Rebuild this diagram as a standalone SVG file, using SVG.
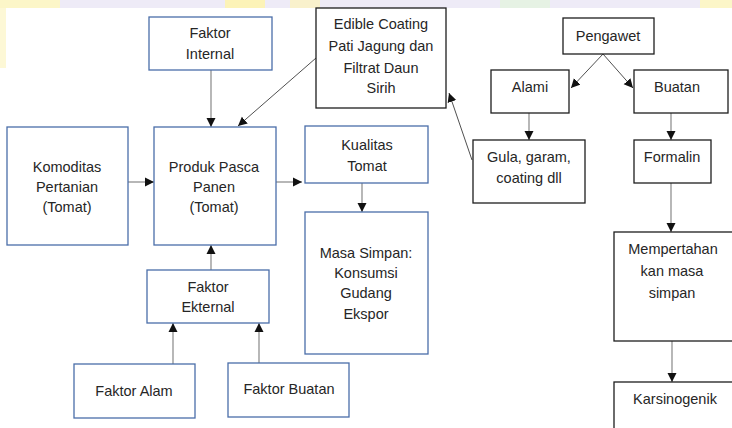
<svg xmlns="http://www.w3.org/2000/svg" width="732" height="428" viewBox="0 0 732 428">
<defs>
<style>
.b{fill:#fff;stroke:#4a6ea9;stroke-width:1.3}
.k{fill:#fff;stroke:#1e1e1e;stroke-width:1.3}
text{font-family:"Liberation Sans",Arial,sans-serif;font-size:14.5px;fill:#262626;text-anchor:middle}
.c{stroke:#a6a6a6;stroke-width:1.6;fill:none;marker-end:url(#ah)}
.d{stroke:#505050;stroke-width:1;fill:none;marker-end:url(#ah)}
</style>
<marker id="ah" markerUnits="userSpaceOnUse" markerWidth="10" markerHeight="10" viewBox="0 0 10 10" refX="9" refY="5" orient="auto">
<path d="M0,0.5 L9,5 L0,9.5 Z" fill="#111"/>
</marker>
</defs>
<rect width="732" height="428" fill="#fff"/>
<g id="watermark">
<rect x="0" y="0" width="732" height="8" fill="#eeebf7"/>
<rect x="0" y="0" width="60" height="8" fill="#fcf6c8"/>
<rect x="225" y="0" width="40" height="8" fill="#fcf3b8"/>
<rect x="290" y="0" width="30" height="8" fill="#f9f1cc"/>
<rect x="500" y="0" width="50" height="8" fill="#e6f2e4"/>
<rect x="700" y="0" width="32" height="8" fill="#fcf6c8"/>
<rect x="0" y="8" width="6" height="60" fill="#fdf8d6"/>
</g>
<g id="connectors">
<line class="c" x1="211" y1="70" x2="211" y2="127"/>
<line class="d" x1="316" y1="58" x2="238" y2="126"/>
<line class="c" x1="128" y1="182" x2="154" y2="182"/>
<line class="c" x1="276" y1="182" x2="302" y2="182"/>
<line class="c" x1="362" y1="183" x2="362" y2="212"/>
<line class="c" x1="211" y1="270" x2="211" y2="245"/>
<line class="c" x1="173" y1="364" x2="173" y2="323"/>
<line class="c" x1="259" y1="363" x2="259" y2="323"/>
<line class="d" x1="472" y1="160" x2="449" y2="93"/>
<line class="d" x1="603" y1="54" x2="571" y2="88"/>
<line class="d" x1="603" y1="54" x2="633" y2="88"/>
<line class="c" x1="529" y1="113" x2="529" y2="140"/>
<line class="c" x1="671" y1="113" x2="671" y2="140"/>
<line class="c" x1="671" y1="183" x2="671" y2="232"/>
<line class="c" x1="672" y1="341" x2="672" y2="382"/>
</g>
<g id="faktor-internal"><rect class="b" x="149" y="17" width="123" height="53"/><text x="210" y="38">Faktor</text><text x="210" y="59">Internal</text></g>
<g id="komoditas"><rect class="b" x="7" y="127" width="121" height="118"/><text x="67" y="172">Komoditas</text><text x="67" y="192">Pertanian</text><text x="67" y="212">(Tomat)</text></g>
<g id="produk"><rect class="b" x="154" y="127" width="122" height="118"/><text x="214" y="172">Produk Pasca</text><text x="214" y="192">Panen</text><text x="214" y="212">(Tomat)</text></g>
<g id="kualitas"><rect class="b" x="305" y="126" width="123" height="57"/><text x="367" y="150">Kualitas</text><text x="367" y="171">Tomat</text></g>
<g id="masa-simpan"><rect class="b" x="305" y="212" width="123" height="142"/><text x="366" y="258">Masa Simpan:</text><text x="366" y="278">Konsumsi</text><text x="366" y="298">Gudang</text><text x="366" y="319">Ekspor</text></g>
<g id="faktor-ekternal"><rect class="b" x="147" y="270" width="122" height="53"/><text x="208" y="292">Faktor</text><text x="208" y="312">Ekternal</text></g>
<g id="faktor-alam"><rect class="b" x="74" y="364" width="121" height="54"/><text x="134" y="396">Faktor Alam</text></g>
<g id="faktor-buatan"><rect class="b" x="228" y="363" width="121" height="54"/><text x="289" y="394">Faktor Buatan</text></g>
<g id="edible"><rect class="k" x="316" y="8" width="130" height="100"/><text x="381" y="29">Edible Coating</text><text x="381" y="51">Pati Jagung dan</text><text x="381" y="73">Filtrat Daun</text><text x="381" y="93">Sirih</text></g>
<g id="pengawet"><rect class="k" x="563" y="18" width="91" height="36"/><text x="608" y="41">Pengawet</text></g>
<g id="alami"><rect class="k" x="491" y="70" width="78" height="43"/><text x="530" y="92">Alami</text></g>
<g id="buatan"><rect class="k" x="634" y="70" width="94" height="43"/><text x="677" y="92">Buatan</text></g>
<g id="gula"><rect class="k" x="473" y="140" width="112" height="63"/><text x="529" y="162">Gula, garam,</text><text x="529" y="183">coating dll</text></g>
<g id="formalin"><rect class="k" x="634" y="140" width="77" height="43"/><text x="672" y="162">Formalin</text></g>
<g id="mempertahankan"><rect class="k" x="614" y="232" width="122" height="109"/><text x="673" y="254">Mempertahan</text><text x="672" y="276">kan masa</text><text x="672" y="298">simpan</text></g>
<g id="karsinogenik"><rect class="k" x="614" y="382" width="122" height="60"/><text x="675" y="404">Karsinogenik</text></g>
</svg>
